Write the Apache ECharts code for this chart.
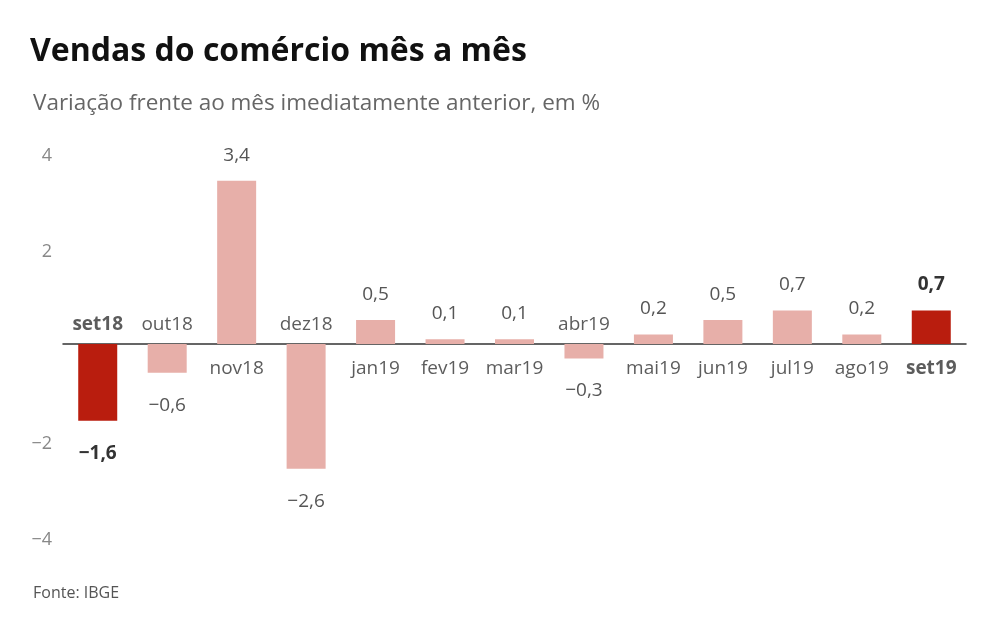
<!DOCTYPE html>
<html>
<head>
<meta charset="utf-8">
<script src="https://cdn.jsdelivr.net/npm/echarts@6/dist/echarts.min.js"></script>
<style>
  html, body { margin: 0; padding: 0; background: #fff; }
  #chart { width: 1008px; height: 643px; }
</style>
</head>
<body>
<div id="chart"></div>
<script>
var months = ['set18', 'out18', 'nov18', 'dez18', 'jan19', 'fev19', 'mar19', 'abr19', 'mai19', 'jun19', 'jul19', 'ago19', 'set19'];
var values = [-1.6, -0.6, 3.4, -2.6, 0.5, 0.1, 0.1, -0.3, 0.2, 0.5, 0.7, 0.2, 0.7];
var highlighted = ['set18', 'set19'];
var yTicks = [-4, -2, 0, 2, 4];

var FONT = '"Open Sans", sans-serif';
var RED = '#b91d0e';
var PINK = '#e7afa9';

function fmt(v) {
    var s = Math.abs(v).toFixed(1).replace('.', ',');
    return (v < 0 ? '\u2212' : '') + s;
}

var barData = [], catData = [];
for (var i = 0; i < values.length; i++) {
    var v = values[i];
    var hi = highlighted.indexOf(months[i]) >= 0;
    barData.push({
        value: v,
        itemStyle: { color: hi ? RED : PINK },
        label: {
            show: true,
            position: v < 0 ? 'bottom' : 'top',
            distance: v < 0 ? 23 : 16,
            formatter: fmt(v),
            fontWeight: hi ? 'bold' : 'normal',
            color: hi ? '#333' : '#555'
        }
    });
    // month name sits on the other side of the axis from the bar
    catData.push({
        value: [months[i], 0],
        label: {
            show: true,
            position: v < 0 ? 'top' : 'bottom',
            distance: v < 0 ? 10 : 15,
            formatter: months[i],
            fontWeight: hi ? 'bold' : 'normal',
            color: '#333'
        }
    });
}

var chart = echarts.init(document.getElementById('chart'));
chart.setOption({
    animation: false,
    textStyle: { fontFamily: FONT },
    title: [
        { text: 'Vendas do comércio mês a mês', left: 25, top: 31,
          textStyle: { fontFamily: FONT, fontSize: 32, fontWeight: 'bold', color: '#111' } },
        { text: 'Variação frente ao mês imediatamente anterior, em %', left: 28, top: 87,
          textStyle: { fontFamily: FONT, fontSize: 22.5, fontWeight: 'normal', color: '#666' } },
        { text: 'Fonte: IBGE', left: 28, top: 580,
          textStyle: { fontFamily: FONT, fontSize: 16, fontWeight: 'normal', color: '#555' } }
    ],
    grid: { left: 63, right: 42, top: 152, bottom: 107, containLabel: false },
    xAxis: {
        type: 'category',
        data: months,
        axisLine: { onZero: true, lineStyle: { color: '#333', width: 1.5 } },
        axisTick: { show: false },
        axisLabel: { show: false },
        splitLine: { show: false }
    },
    yAxis: {
        type: 'value',
        min: yTicks[0],
        max: yTicks[yTicks.length - 1],
        interval: 2,
        axisLine: { show: false },
        axisTick: { show: false },
        splitLine: { show: false },
        axisLabel: {
            margin: 11,
            fontSize: 18,
            color: '#888',
            fontFamily: FONT,
            formatter: function (v) {
                if (v === 0) return '';
                return '{t|' + (v < 0 ? '\u2212' : '') + Math.abs(v) + '}';
            },
            rich: {
                t: { fontSize: 18, color: '#888', fontFamily: FONT, padding: [8, 0, 0, 0] }
            }
        }
    },
    series: [
        {
            type: 'bar',
            data: barData,
            barWidth: 39,
            label: { fontSize: 19, fontFamily: FONT }
        },
        {
            type: 'scatter',
            data: catData,
            symbolSize: 0,
            silent: true,
            label: { fontSize: 19, fontFamily: FONT }
        }
    ]
});
</script>
</body>
</html>
